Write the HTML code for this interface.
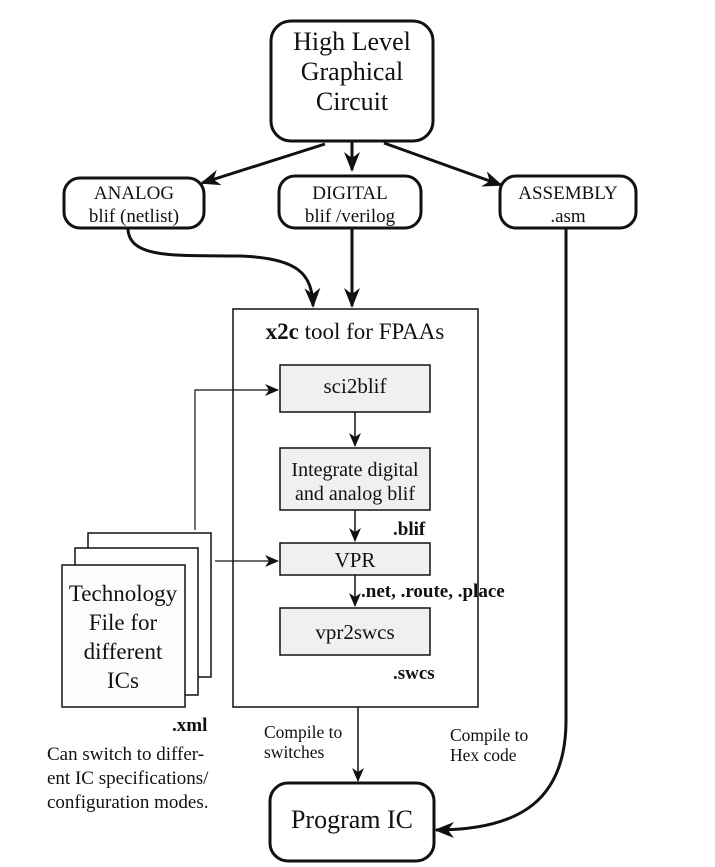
<!DOCTYPE html>
<html><head><style>
html,body{margin:0;padding:0;background:#fff;}
svg{display:block;font-family:"Liberation Serif",serif;}
</style></head><body>
<svg width="715" height="867" viewBox="0 0 715 867" xmlns="http://www.w3.org/2000/svg">
<defs>
<marker id="big" viewBox="0 0 20 16" refX="18" refY="8" markerWidth="20" markerHeight="16" markerUnits="userSpaceOnUse" orient="auto">
<path d="M0,0 L20,8 L0,16 L6,8 Z" fill="#111"/>
</marker>
<marker id="sm" viewBox="0 0 14 12" refX="13" refY="6" markerWidth="14" markerHeight="12" markerUnits="userSpaceOnUse" orient="auto">
<path d="M0,0 L14,6 L0,12 L4,6 Z" fill="#111"/>
</marker>
</defs>
<g fill="none" stroke="#111">
<rect x="271" y="21" width="162" height="120" rx="20" stroke-width="3"/>
<rect x="64" y="178" width="140" height="50" rx="16" stroke-width="3"/>
<rect x="279" y="176" width="142" height="52" rx="16" stroke-width="3"/>
<rect x="500" y="176" width="136" height="52" rx="16" stroke-width="3"/>
<rect x="270" y="783" width="164" height="78" rx="18" stroke-width="3"/>
<path d="M325,144 L202,183" stroke-width="3" marker-end="url(#big)"/>
<path d="M352,141 L352,170" stroke-width="3" marker-end="url(#big)"/>
<path d="M384,143 L501,185" stroke-width="3" marker-end="url(#big)"/>
<path d="M128,228 C128,260 180,255 240,256 C300,258 312,275 313,306" stroke-width="3" marker-end="url(#big)"/>
<path d="M352,228 L352,306" stroke-width="3" marker-end="url(#big)"/>
<path d="M566,228 L566,720 C566,800 520,830 436,830" stroke-width="3" marker-end="url(#big)"/>
<rect x="233" y="309" width="245" height="398" stroke-width="1.5"/>
<rect x="280" y="365" width="150" height="47" fill="#eff0f2" stroke-width="1.5"/>
<rect x="280" y="448" width="150" height="62" fill="#eff0f2" stroke-width="1.5"/>
<rect x="280" y="543" width="150" height="32" fill="#eff0f2" stroke-width="1.5"/>
<rect x="280" y="608" width="150" height="47" fill="#eff0f2" stroke-width="1.5"/>
<path d="M355,412 L355,446" stroke-width="1.5" marker-end="url(#sm)"/>
<path d="M355,510 L355,541" stroke-width="1.5" marker-end="url(#sm)"/>
<path d="M355,575 L355,606" stroke-width="1.5" marker-end="url(#sm)"/>
<path d="M358,707 L358,781" stroke-width="1.5" marker-end="url(#sm)"/>
<rect x="88" y="533" width="123" height="144" fill="#fff" stroke-width="1.5"/>
<rect x="75" y="548" width="123" height="147" fill="#fff" stroke-width="1.5"/>
<rect x="62" y="565" width="123" height="142" fill="#fcfcfc" stroke-width="1.5"/>
<path d="M195,530 L195,390 L278,390" stroke-width="1.2" marker-end="url(#sm)"/>
<path d="M215,561 L278,561" stroke-width="1.2" marker-end="url(#sm)"/>
</g>
<g fill="#111" text-anchor="middle">
<text x="352" y="50" font-size="26">High Level</text>
<text x="352" y="80" font-size="26">Graphical</text>
<text x="352" y="110" font-size="26">Circuit</text>
<text x="134" y="199" font-size="19">ANALOG</text>
<text x="134" y="222" font-size="19">blif (netlist)</text>
<text x="350" y="199" font-size="19">DIGITAL</text>
<text x="350" y="222" font-size="19">blif /verilog</text>
<text x="568" y="199" font-size="19">ASSEMBLY</text>
<text x="568" y="222" font-size="19">.asm</text>
<text x="355" y="339" font-size="23"><tspan font-weight="bold">x2c</tspan> tool for FPAAs</text>
<text x="355" y="393" font-size="21">sci2blif</text>
<text x="355" y="476" font-size="20">Integrate digital</text>
<text x="355" y="500" font-size="20">and analog blif</text>
<text x="355" y="567" font-size="21">VPR</text>
<text x="355" y="639" font-size="21">vpr2swcs</text>
<text x="123" y="601" font-size="23">Technology</text>
<text x="123" y="630" font-size="23">File for</text>
<text x="123" y="659" font-size="23">different</text>
<text x="123" y="688" font-size="23">ICs</text>
<text x="352" y="828" font-size="26">Program IC</text>
</g>
<g fill="#111" font-weight="bold" font-size="19">
<text x="393" y="535">.blif</text>
<text x="361" y="597">.net, .route, .place</text>
<text x="393" y="679">.swcs</text>
<text x="172" y="731">.xml</text>
</g>
<g fill="#111" font-size="19">
<text x="47" y="760">Can switch to differ-</text>
<text x="47" y="784">ent IC specifications/</text>
<text x="47" y="808">configuration modes.</text>
</g>
<g fill="#111" font-size="17.5">
<text x="264" y="738">Compile to</text>
<text x="264" y="758">switches</text>
<text x="450" y="741">Compile to</text>
<text x="450" y="761">Hex code</text>
</g>
</svg>
</body></html>
